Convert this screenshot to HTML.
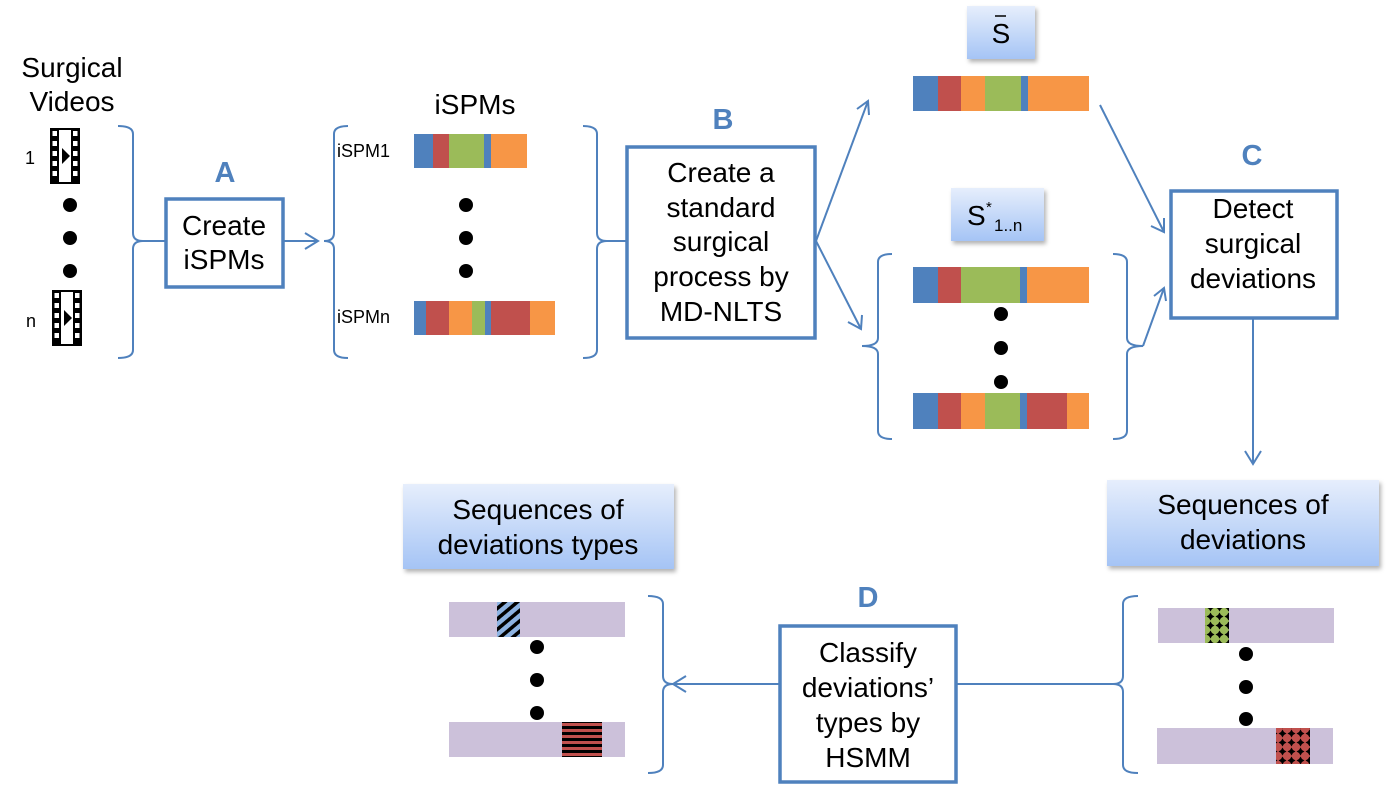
<!DOCTYPE html>
<html><head><meta charset="utf-8"><style>
html,body{margin:0;padding:0;background:#fff;}
svg{display:block;font-family:"Liberation Sans",Arial,sans-serif;}
</style></head><body>
<svg width="1386" height="791" viewBox="0 0 1386 791" xmlns="http://www.w3.org/2000/svg">
<defs>
<linearGradient id="g" x1="0" y1="0" x2="0" y2="1">
<stop offset="0" stop-color="#e6eefc"/><stop offset="1" stop-color="#a5c4f5"/>
</linearGradient>
<filter id="sh" x="-10%" y="-10%" width="130%" height="140%"><feDropShadow dx="2" dy="3" stdDeviation="2" flood-color="#000" flood-opacity="0.3"/></filter>
<pattern id="hatch" width="8" height="8" patternUnits="userSpaceOnUse" patternTransform="rotate(-40)">
<rect width="8" height="8" fill="#8db3e2"/><rect width="8" height="3.5" fill="#000"/></pattern>
<pattern id="stripe" width="8" height="6" patternUnits="userSpaceOnUse">
<rect width="8" height="6" fill="#c0504d"/><rect width="8" height="3" fill="#000"/></pattern>
<pattern id="dg" width="9" height="9" patternUnits="userSpaceOnUse">
<rect width="9" height="9" fill="#9bbb59"/><path d="M4.5 0.5 L6 3 L8.5 4.5 L6 6 L4.5 8.5 L3 6 L0.5 4.5 L3 3Z" fill="#000"/></pattern>
<pattern id="dr" width="9" height="9" patternUnits="userSpaceOnUse">
<rect width="9" height="9" fill="#c0504d"/><path d="M4.5 0.5 L6 3 L8.5 4.5 L6 6 L4.5 8.5 L3 6 L0.5 4.5 L3 3Z" fill="#000"/></pattern>
<g id="film">
<rect x="0" y="0" width="30" height="56" fill="#000"/>
<rect x="9" y="2" width="12" height="52" fill="#fff"/>
<g fill="#fff">
<rect x="2.5" y="3" width="4.5" height="5"/><rect x="2.5" y="13" width="4.5" height="5"/><rect x="2.5" y="23" width="4.5" height="5"/><rect x="2.5" y="33" width="4.5" height="5"/><rect x="2.5" y="43" width="4.5" height="5"/>
<rect x="23" y="3" width="4.5" height="5"/><rect x="23" y="13" width="4.5" height="5"/><rect x="23" y="23" width="4.5" height="5"/><rect x="23" y="33" width="4.5" height="5"/><rect x="23" y="43" width="4.5" height="5"/>
</g>
<path d="M12 20 L20 28 L12 36Z" fill="#000"/>
</g>
</defs>

<g fill="none" stroke="#4f81bd" stroke-width="2">
<path d="M118 126 Q133 126 133 134 L133 233 Q133 241 143 241 Q133 241 133 249 L133 350 Q133 358 118 358"/>
<path d="M348 126 Q334 126 334 134 L334 233 Q334 241 324 241 Q334 241 334 249 L334 350 Q334 358 348 358"/>
<path d="M583 126 Q597 126 597 134 L597 233 Q597 241 607 241 Q597 241 597 249 L597 350 Q597 358 583 358"/>
<path d="M892 254 Q878 254 878 262 L878 338 Q878 346 862 346 Q878 346 878 354 L878 431 Q878 439 892 439"/>
<path d="M1113 254 Q1127 254 1127 262 L1127 338 Q1127 346 1143 346 Q1127 346 1127 354 L1127 431 Q1127 439 1113 439"/>
<path d="M648 596 Q663 596 663 604 L663 676 Q663 684 673 684 Q663 684 663 692 L663 765 Q663 773 648 773"/>
<path d="M1138 596 Q1123 596 1123 604 L1123 676 Q1123 684 1113 684 Q1123 684 1123 692 L1123 765 Q1123 773 1138 773"/>
<line x1="143" y1="241" x2="165" y2="241"/>
<line x1="284" y1="241" x2="318" y2="241"/><path d="M305 233 L318 241 L305 249"/>
<line x1="607" y1="241" x2="626" y2="241"/>
<line x1="816" y1="241" x2="868" y2="101"/><path d="M857 109 L868 101 L869 115"/>
<line x1="816" y1="241" x2="861" y2="329"/><path d="M848 322 L861 329 L862 315"/>
<line x1="1100" y1="105" x2="1164" y2="232"/><path d="M1151 226 L1164 232 L1164 218"/>
<line x1="1143" y1="346" x2="1164" y2="288"/><path d="M1154 296 L1164 288 L1166 301"/>
<line x1="1253" y1="319" x2="1253" y2="464"/><path d="M1245 451 L1253 464 L1261 451"/>
<line x1="1113" y1="684" x2="957" y2="684"/>
<line x1="780" y1="684" x2="673" y2="684"/><path d="M686 676 L673 684 L686 692"/>
</g>

<g fill="#fff" stroke="#4f81bd" stroke-width="3.5">
<rect x="166" y="199" width="117" height="88"/>
<rect x="627" y="147" width="188" height="191"/>
<rect x="1171" y="191" width="166" height="127"/>
<rect x="780" y="626" width="176" height="156"/>
</g>
<g filter="url(#sh)" fill="url(#g)">
<rect x="967" y="6" width="68" height="53"/>
<rect x="951" y="188" width="93" height="53"/>
<rect x="403" y="484" width="271" height="85"/>
<rect x="1107" y="480" width="272" height="86"/>
</g>

<g font-size="28" fill="#000" text-anchor="middle">
<text x="72" y="77">Surgical</text>
<text x="72" y="111">Videos</text>
<text x="475" y="114">iSPMs</text>
<text x="224" y="235">Create</text>
<text x="224" y="269">iSPMs</text>
<text x="721" y="182">Create a</text>
<text x="721" y="217">standard</text>
<text x="721" y="251">surgical</text>
<text x="721" y="286">process by</text>
<text x="721" y="321">MD-NLTS</text>
<text x="1253" y="218">Detect</text>
<text x="1253" y="253">surgical</text>
<text x="1253" y="288">deviations</text>
<text x="868" y="662">Classify</text>
<text x="868" y="697">deviations’</text>
<text x="868" y="732">types by</text>
<text x="868" y="767">HSMM</text>
<text x="538" y="519">Sequences of</text>
<text x="538" y="554">deviations types</text>
<text x="1243" y="514">Sequences of</text>
<text x="1243" y="549">deviations</text>
<text x="1001" y="43">S</text>
</g>
<line x1="995" y1="16" x2="1006" y2="16" stroke="#000" stroke-width="1.5"/>
<text x="967" y="225" font-size="28">S</text>
<text x="986" y="212" font-size="15">*</text>
<text x="994" y="231" font-size="17">1..n</text>

<g font-size="29" font-weight="bold" fill="#4f81bd" text-anchor="middle">
<text x="225" y="182">A</text>
<text x="723" y="129">B</text>
<text x="1252" y="165">C</text>
<text x="868" y="607">D</text>
</g>

<g font-size="18" fill="#000">
<text x="25" y="164">1</text>
<text x="26" y="327">n</text>
<text x="337" y="157">iSPM1</text>
<text x="337" y="323">iSPMn</text>
</g>
<use href="#film" x="50" y="128"/>
<use href="#film" x="52" y="290"/>

<g fill="#000">
<circle cx="70" cy="205" r="7"/><circle cx="70" cy="238" r="7"/><circle cx="70" cy="271" r="7"/>
<circle cx="466" cy="205" r="7"/><circle cx="466" cy="238" r="7"/><circle cx="466" cy="271" r="7"/>
<circle cx="1001" cy="314" r="7"/><circle cx="1001" cy="348" r="7"/><circle cx="1001" cy="382" r="7"/>
<circle cx="537" cy="647" r="7"/><circle cx="537" cy="680" r="7"/><circle cx="537" cy="713" r="7"/>
<circle cx="1246" cy="654" r="7"/><circle cx="1246" cy="687" r="7"/><circle cx="1246" cy="719" r="7"/>
</g>

<g>
<rect x="414" y="134" width="19" height="34" fill="#4f81bd"/><rect x="433" y="134" width="16" height="34" fill="#c0504d"/><rect x="449" y="134" width="35" height="34" fill="#9bbb59"/><rect x="484" y="134" width="7" height="34" fill="#4f81bd"/><rect x="491" y="134" width="36" height="34" fill="#f79646"/>
<rect x="414" y="301" width="12" height="34" fill="#4f81bd"/><rect x="426" y="301" width="23" height="34" fill="#c0504d"/><rect x="449" y="301" width="23" height="34" fill="#f79646"/><rect x="472" y="301" width="13" height="34" fill="#9bbb59"/><rect x="485" y="301" width="6" height="34" fill="#4f81bd"/><rect x="491" y="301" width="39" height="34" fill="#c0504d"/><rect x="530" y="301" width="25" height="34" fill="#f79646"/>

<rect x="913" y="76" width="25" height="35" fill="#4f81bd"/><rect x="938" y="76" width="23" height="35" fill="#c0504d"/><rect x="961" y="76" width="24" height="35" fill="#f79646"/><rect x="985" y="76" width="36" height="35" fill="#9bbb59"/><rect x="1021" y="76" width="7" height="35" fill="#4f81bd"/><rect x="1028" y="76" width="61" height="35" fill="#f79646"/>

<rect x="913" y="267" width="25" height="36" fill="#4f81bd"/><rect x="938" y="267" width="23" height="36" fill="#c0504d"/><rect x="961" y="267" width="59" height="36" fill="#9bbb59"/><rect x="1020" y="267" width="7" height="36" fill="#4f81bd"/><rect x="1027" y="267" width="62" height="36" fill="#f79646"/>

<rect x="913" y="393" width="25" height="36" fill="#4f81bd"/><rect x="938" y="393" width="23" height="36" fill="#c0504d"/><rect x="961" y="393" width="24" height="36" fill="#f79646"/><rect x="985" y="393" width="35" height="36" fill="#9bbb59"/><rect x="1020" y="393" width="7" height="36" fill="#4f81bd"/><rect x="1027" y="393" width="40" height="36" fill="#c0504d"/><rect x="1067" y="393" width="22" height="36" fill="#f79646"/>

<rect x="449" y="602" width="176" height="35" fill="#ccc1da"/><rect x="497" y="602" width="23" height="35" fill="url(#hatch)"/>
<rect x="449" y="722" width="176" height="35" fill="#ccc1da"/><rect x="562" y="722" width="40" height="35" fill="url(#stripe)"/>
<rect x="1158" y="608" width="176" height="35" fill="#ccc1da"/><rect x="1205" y="608" width="24" height="35" fill="url(#dg)"/>
<rect x="1157" y="728" width="176" height="36" fill="#ccc1da"/><rect x="1276" y="728" width="34" height="36" fill="url(#dr)"/>
</g>
</svg>
</body></html>
